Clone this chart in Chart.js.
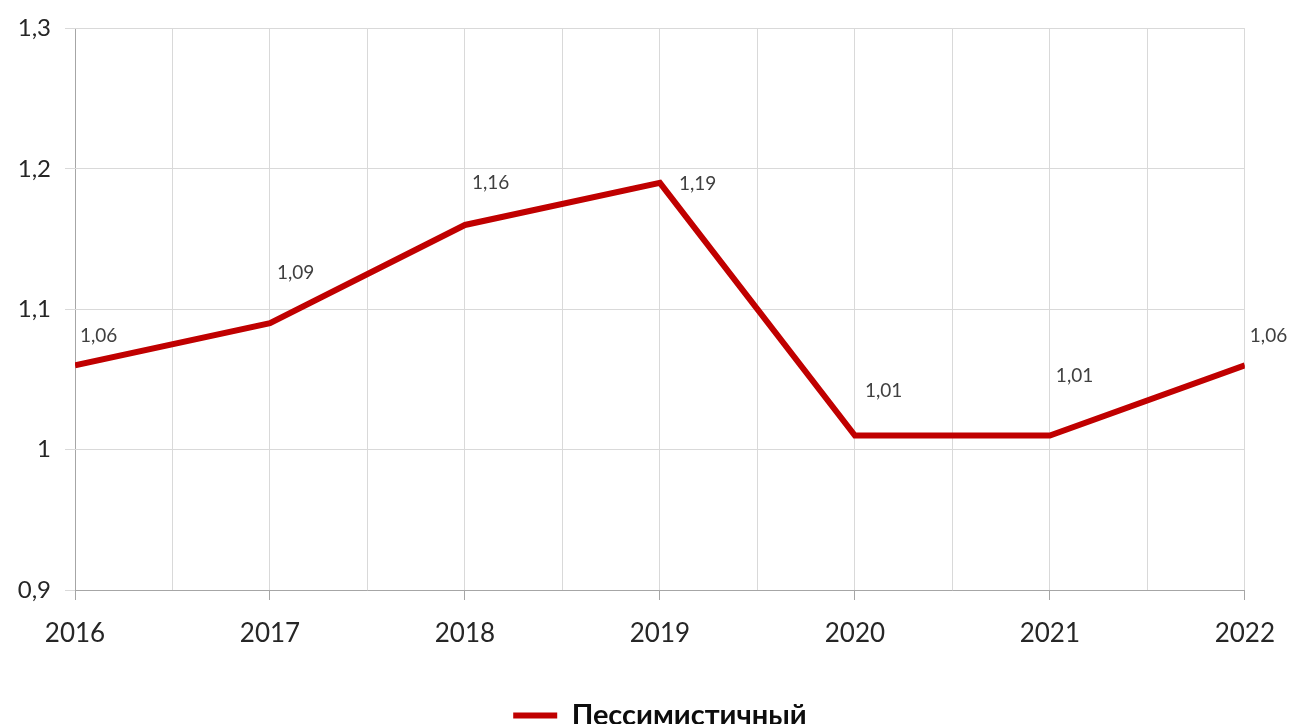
<!DOCTYPE html>
<html lang="ru">
<head>
<meta charset="utf-8">
<title>Пессимистичный</title>
<script src="https://cdn.jsdelivr.net/npm/chart.js@4/dist/chart.umd.min.js"></script>
<style>
  html, body { margin: 0; padding: 0; background: #fff; }
  #wrap { width: 1293px; height: 724px; }
</style>
</head>
<body>
<div id="wrap"><canvas id="chart"></canvas></div>
<script>
// years along the bottom and the index for each of them
const years = [2016, 2017, 2018, 2019, 2020, 2021, 2022];
const pessimistic = [1.06, 1.09, 1.16, 1.19, 1.01, 1.01, 1.06];
const seriesName = 'Пессимистичный';
const yTicks = [0.9, 1.0, 1.1, 1.2, 1.3];

// where each value label sits relative to its point (px)
const labelShift = [[5, -29], [7, -50], [7, -42], [19, 1], [10, -45], [6, -60], [5, -29]];

const FONT = 'Lato, "Open Sans", sans-serif';
const fmt = v => String(Number(v.toFixed(2))).replace('.', ',');

const valueLabels = {
  id: 'valueLabels',
  afterDatasetsDraw(chart) {
    const ctx = chart.ctx;
    const meta = chart.getDatasetMeta(0);
    ctx.save();
    ctx.font = '19px ' + FONT;
    ctx.fillStyle = '#404040';
    ctx.textAlign = 'left';
    ctx.textBaseline = 'middle';
    meta.data.forEach((pt, i) => {
      const [dx, dy] = labelShift[i];
      ctx.fillText(fmt(pessimistic[i]), pt.x + dx, pt.y + dy);
    });
    ctx.restore();
  }
};

new Chart(document.getElementById('chart'), {
  type: 'line',
  data: {
    datasets: [{
      label: seriesName,
      data: years.map((y, i) => ({ x: y, y: pessimistic[i] })),
      borderColor: '#c00000',
      backgroundColor: '#c00000',
      borderWidth: 6,
      pointRadius: 0,
      tension: 0
    }]
  },
  options: {
    responsive: true,
    maintainAspectRatio: false,
    animation: false,
    layout: { padding: { left: 0, right: 48, top: 18, bottom: -16 } },
    scales: {
      x: {
        type: 'linear',
        min: years[0],
        max: years[years.length - 1],
        afterBuildTicks: s => {
          s.ticks = [];
          for (let v = years[0]; v <= years[years.length - 1]; v += 0.5) s.ticks.push({ value: v });
        },
        ticks: {
          autoSkip: false,
          maxRotation: 0,
          padding: 18,
          color: '#262626',
          font: { family: FONT, size: 26 },
          callback: v => Number.isInteger(v) ? String(v) : ''
        },
        grid: {
          color: ctx => ctx.index === 0 ? '#a6a6a6' : '#d9d9d9',
          tickColor: ctx => (ctx.tick && Number.isInteger(ctx.tick.value)) ? '#a6a6a6' : 'rgba(0,0,0,0)',
          tickLength: 10,
          lineWidth: 1
        },
        border: { display: true, color: '#a6a6a6' },
        afterFit: s => { s.height = 109; }
      },
      y: {
        min: 0.9,
        max: 1.3,
        afterBuildTicks: s => { s.ticks = yTicks.map(v => ({ value: v })); },
        ticks: {
          padding: 14,
          color: '#262626',
          font: { family: FONT, size: 24 },
          callback: v => fmt(v)
        },
        grid: {
          color: '#d9d9d9',
          tickColor: '#d9d9d9',
          tickLength: 10
        },
        border: { display: false },
        afterFit: s => { s.width = 75; }
      }
    },
    plugins: {
      legend: {
        position: 'bottom',
        fullSize: false,
        labels: {
          color: '#0d0d0d',
          font: { family: FONT, size: 29, weight: 'bold' },
          boxWidth: 44,
          boxHeight: 6,
          padding: 2,
          generateLabels: chart => Chart.defaults.plugins.legend.labels.generateLabels(chart)
            .map(item => Object.assign(item, { lineWidth: 0 }))
        }
      },
      tooltip: { enabled: false }
    }
  },
  plugins: [valueLabels]
});
</script>
</body>
</html>
